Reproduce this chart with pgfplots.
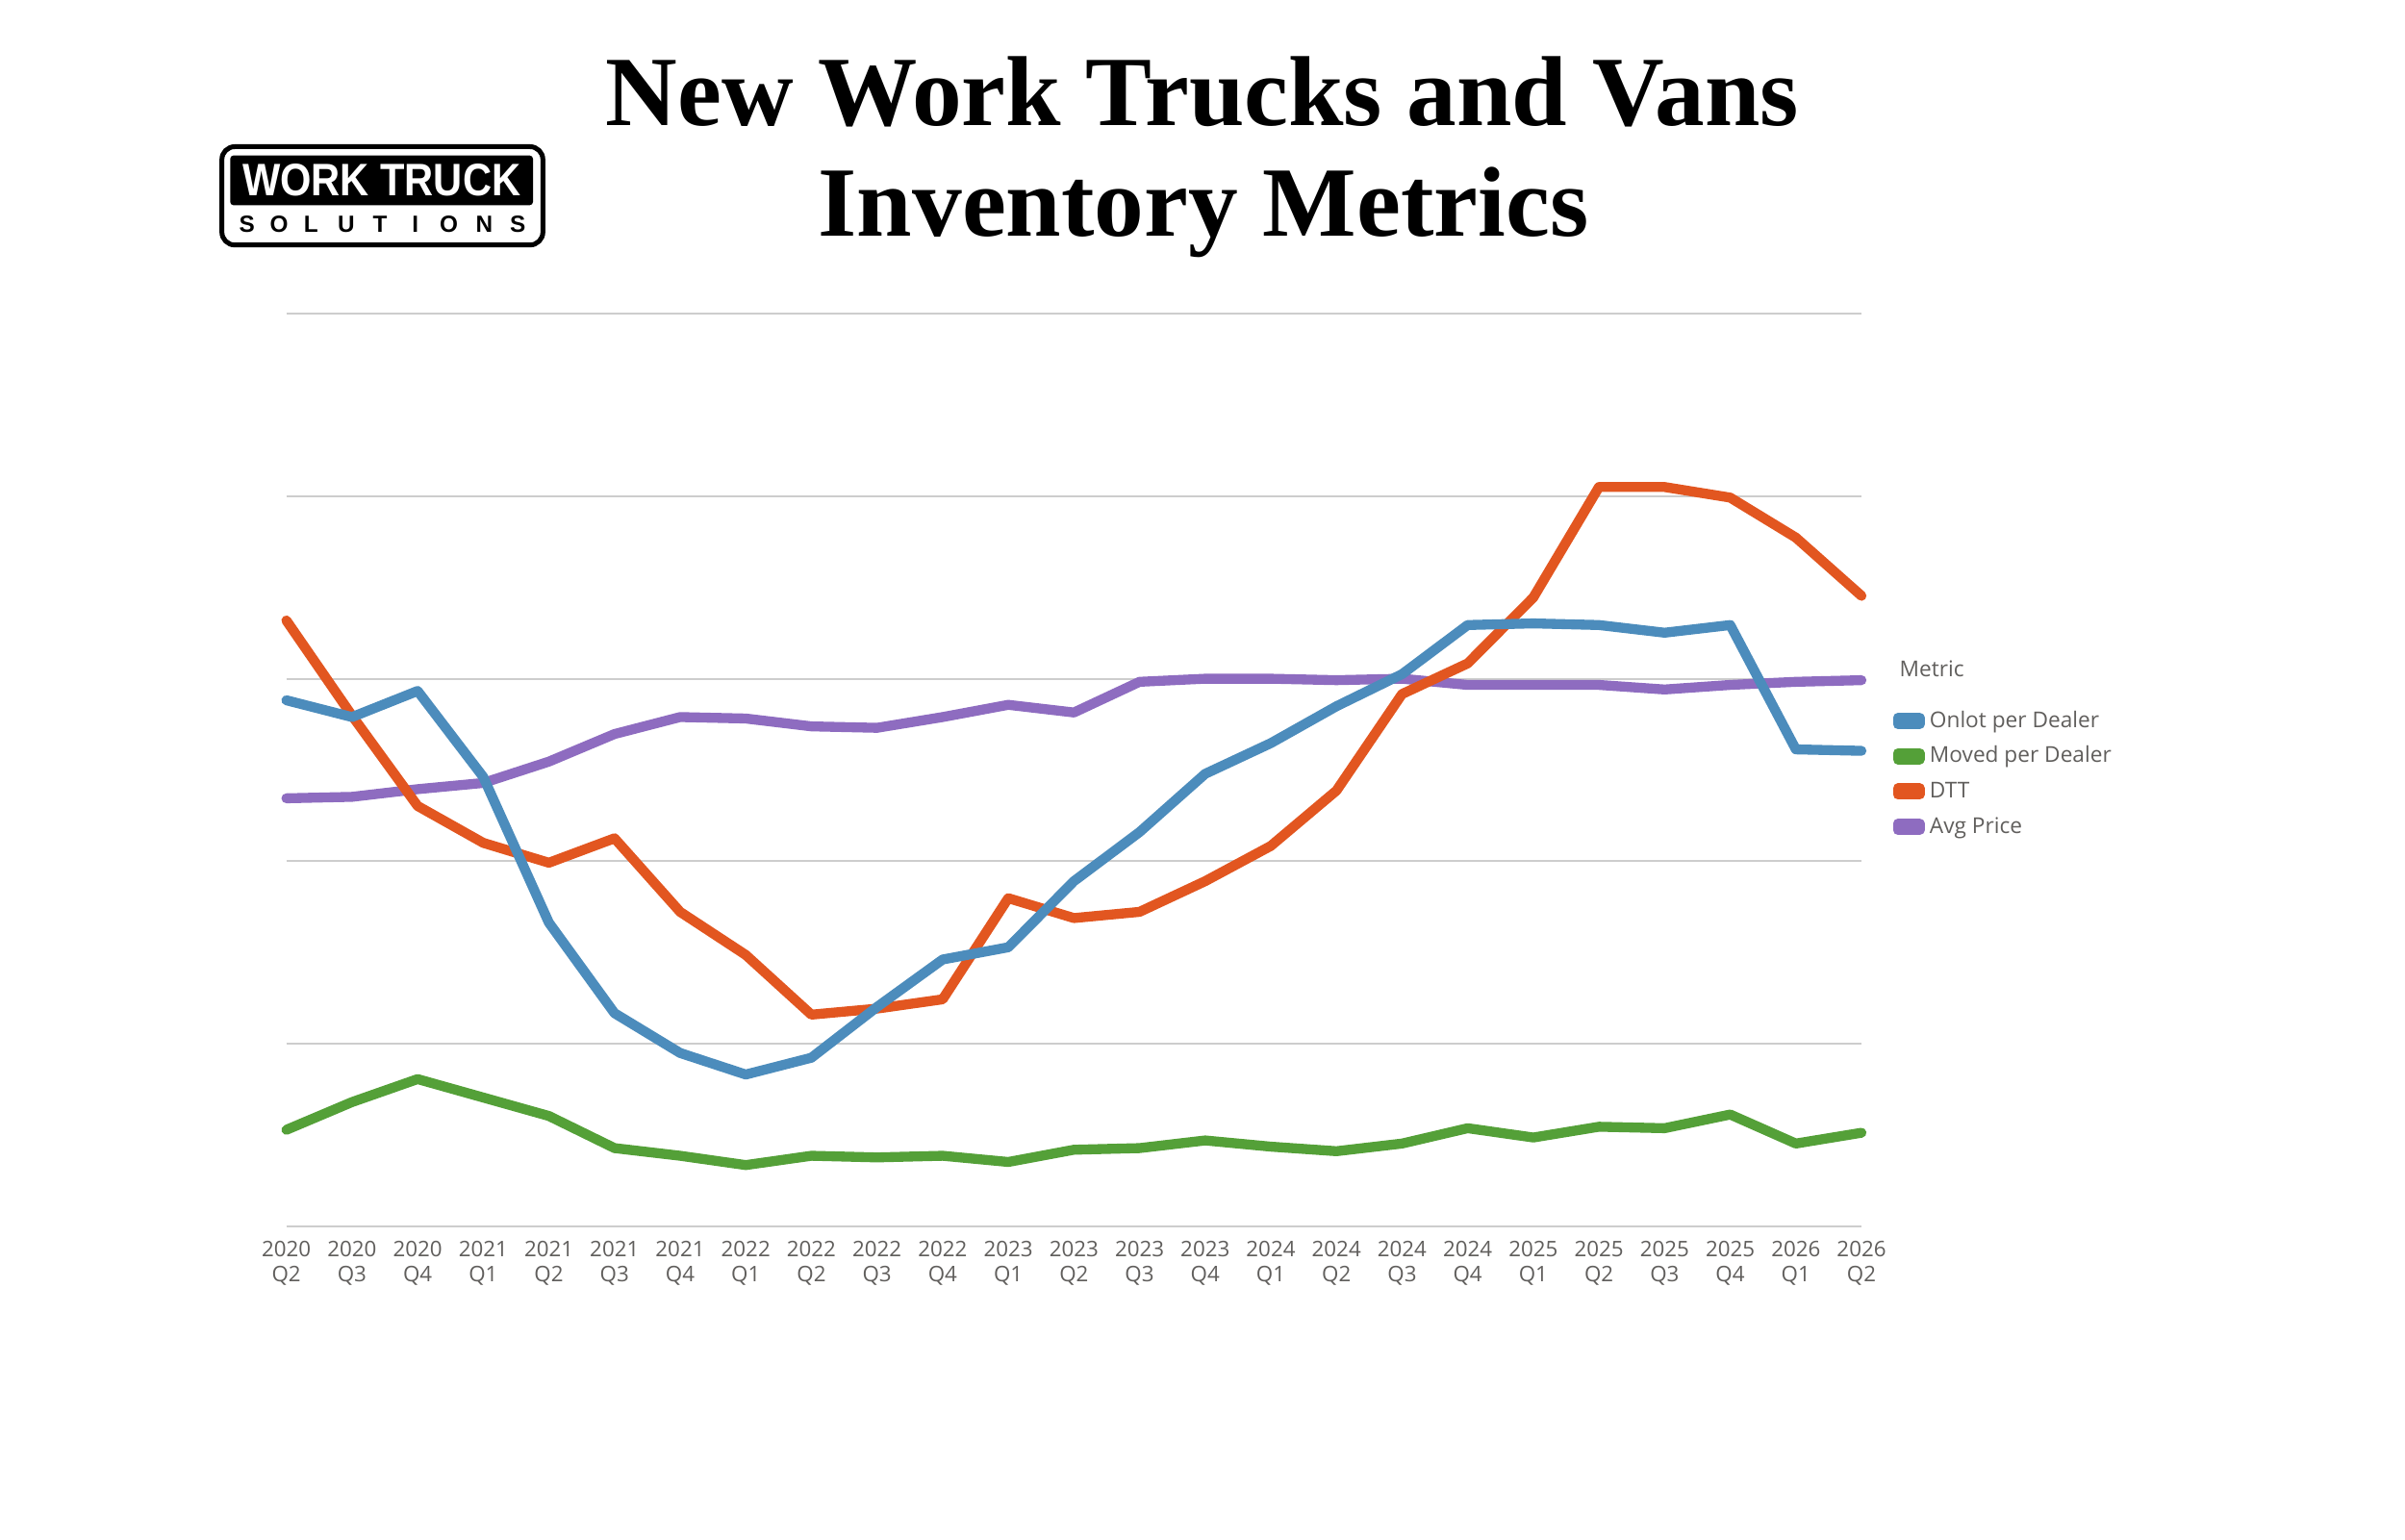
\documentclass[border=0pt]{standalone}
\usepackage{fontspec}
\setmainfont{Open Sans}
\newfontfamily\titlefont{Liberation Serif}
\newfontfamily\logofont{Liberation Sans}
\usepackage{graphicx}
\usepackage{pgfplots}
\pgfplotsset{compat=1.18}
\definecolor{cOnlot}{RGB}{76,140,188}
\definecolor{cMoved}{RGB}{84,160,56}
\definecolor{cDTT}{RGB}{226,86,32}
\definecolor{cPrice}{RGB}{142,108,192}
\definecolor{tgray}{RGB}{96,94,92}
\definecolor{gridc}{RGB}{205,205,205}
\begin{document}
\begin{tikzpicture}
\path[use as bounding box] (-89.3pt,-97.5pt) rectangle (660.7pt,382.5pt);
\begin{axis}[
  at={(0pt,0pt)}, anchor=south west,
  scale only axis, width=491.2pt, height=284.7pt,
  xmin=0, xmax=24, ymin=0, ymax=5,
  clip=false,
  axis line style={draw=none},
  major tick length=0pt,
  ytick={0,1,2,3,4,5}, yticklabels={},
  ymajorgrids, major grid style={gridc, line width=0.55pt},
  xtick={0,...,24},
  xticklabels={{2020\\Q2},{2020\\Q3},{2020\\Q4},{2021\\Q1},{2021\\Q2},{2021\\Q3},{2021\\Q4},{2022\\Q1},{2022\\Q2},{2022\\Q3},{2022\\Q4},{2023\\Q1},{2023\\Q2},{2023\\Q3},{2023\\Q4},{2024\\Q1},{2024\\Q2},{2024\\Q3},{2024\\Q4},{2025\\Q1},{2025\\Q2},{2025\\Q3},{2025\\Q4},{2026\\Q1},{2026\\Q2}},
  xticklabel style={font=\fontsize{6.7}{7.8}\selectfont, text=tgray, align=center, inner sep=0pt, yshift=-4.3pt},
  legend image code/.code={\fill[#1] (0pt,-1pt) rectangle (6.8pt,1pt);},
  legend cell align=left,
  legend style={at={(1.0195,0.5668)}, anchor=north west, draw=none, fill=none, inner sep=0pt,
    font=\fontsize{6.8}{8}\selectfont, text=tgray, row sep=3.9pt, column sep=1.6pt,
    nodes={inner sep=0pt, text height=5.5pt, text depth=1.6pt}},
  every axis plot/.append style={line width=3.1pt, line join=round, line cap=round},
]
\addlegendimage{cOnlot}\addlegendentry{Onlot per Dealer}
\addlegendimage{cMoved}\addlegendentry{Moved per Dealer}
\addlegendimage{cDTT}\addlegendentry{DTT}
\addlegendimage{cPrice}\addlegendentry{Avg Price}
% Avg Price
\addplot[cPrice, forget plot] coordinates {
(0,2.345)(1,2.353)(2,2.395)(3,2.429)(4,2.546)(5,2.697)(6,2.790)(7,2.782)(8,2.739)(9,2.731)(10,2.790)(11,2.857)(12,2.815)(13,2.983)(14,3.000)(15,3.000)(16,2.992)(17,3.000)(18,2.966)(19,2.966)(20,2.966)(21,2.941)(22,2.966)(23,2.983)(24,2.992)};
% Moved per Dealer
\addplot[cMoved, forget plot] coordinates {
(0,0.529)(1,0.681)(2,0.807)(3,0.706)(4,0.605)(5,0.429)(6,0.387)(7,0.336)(8,0.387)(9,0.378)(10,0.387)(11,0.353)(12,0.420)(13,0.429)(14,0.471)(15,0.437)(16,0.412)(17,0.454)(18,0.538)(19,0.487)(20,0.546)(21,0.538)(22,0.613)(23,0.454)(24,0.513)};
% DTT
\addplot[cDTT, forget plot] coordinates {
(0,3.319)(1,2.798)(2,2.303)(3,2.101)(4,1.992)(5,2.126)(6,1.723)(7,1.487)(8,1.160)(9,1.193)(10,1.244)(11,1.798)(12,1.689)(13,1.723)(14,1.891)(15,2.084)(16,2.387)(17,2.916)(18,3.084)(19,3.445)(20,4.050)(21,4.050)(22,3.992)(23,3.773)(24,3.454)};
% Onlot per Dealer
\addplot[cOnlot, forget plot] coordinates {
(0,2.882)(1,2.790)(2,2.933)(3,2.462)(4,1.664)(5,1.168)(6,0.950)(7,0.832)(8,0.924)(9,1.202)(10,1.462)(11,1.529)(12,1.891)(13,2.160)(14,2.479)(15,2.647)(16,2.849)(17,3.025)(18,3.294)(19,3.303)(20,3.294)(21,3.252)(22,3.294)(23,2.613)(24,2.605)};
\end{axis}
% Legend title
\node[anchor=west, text=tgray, inner sep=0pt] at (502.9pt,173.9pt) {\fontsize{6.8}{8}\selectfont Metric};
% Title
\node[anchor=base, inner sep=0pt] at (285.6pt,343.3pt) {\titlefont\bfseries\fontsize{31}{31}\selectfont New Work Trucks and Vans};
\node[anchor=base, inner sep=0pt] at (286.0pt,308.8pt) {\titlefont\bfseries\fontsize{31}{31}\selectfont Inventory Metrics};
% Logo
\draw[line width=1.5pt, rounded corners=4pt] (-20.1pt,306.1pt) rectangle (80.0pt,336.75pt);
\fill[rounded corners=1pt] (-17.5pt,318.5pt) rectangle (76.9pt,334.0pt);
\node[anchor=base, inner sep=0pt, text=white] at (29.7pt,321.3pt) {\scalebox{0.88}[1]{\logofont\bfseries\fontsize{14.2}{14.2}\selectfont WORK TRUCK}};
\foreach \l/\x in {S/-12.3,O/-2.3,L/7.7,U/18.7,T/29.2,I/40.2,O/50.7,N/61.7,S/72.2}
  \node[anchor=base, inner sep=0pt] at (\x pt,310.0pt) {\logofont\bfseries\fontsize{7.3}{7.3}\selectfont \l};
\end{tikzpicture}
\end{document}
